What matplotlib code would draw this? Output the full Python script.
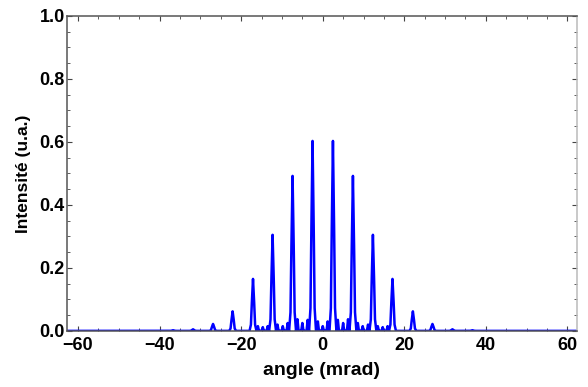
import matplotlib.pyplot as plt
from matplotlib.ticker import MultipleLocator

# main diffraction peaks (mrad, intensity)
peak_angle = [-36.7, -31.8, -26.9, -22.1, -17.1, -12.3, -7.4, -2.5,
              2.5, 7.4, 12.3, 17.1, 22.1, 26.9, 31.8, 36.7]
peak_height = [0.002, 0.005, 0.022, 0.062, 0.165, 0.305, 0.492, 0.603,
               0.603, 0.492, 0.305, 0.165, 0.062, 0.022, 0.005, 0.002]

# small secondary maxima between the main peaks
ripple_angle = [-15.9, -14.7, -13.5, -11.1, -9.8, -8.6, -6.2, -5.0, -3.7,
                -1.2, 0.0, 1.2,
                3.7, 5.0, 6.2, 8.6, 9.8, 11.1, 13.5, 14.7, 15.9]
ripple_height = [0.015, 0.012, 0.015, 0.02, 0.015, 0.025, 0.037, 0.025, 0.035,
                 0.03, 0.015, 0.03,
                 0.035, 0.025, 0.037, 0.025, 0.015, 0.02, 0.015, 0.012, 0.015]

# shape of one bump: offsets (in units of half-width) and fraction of height
shape_dx = [-1.0, -0.6, -0.33, 0.0, 0.33, 0.6, 1.0]
shape_fy = [0.0, 0.12, 0.55, 1.0, 0.55, 0.12, 0.0]

bumps = [(c, h, 0.85) for c, h in zip(peak_angle, peak_height)]
bumps += [(c, h, 0.4) for c, h in zip(ripple_angle, ripple_height)]
bumps.sort()

xs = [-62.5]
ys = [0.0]
for c, h, w in bumps:
    for dx, fy in zip(shape_dx, shape_fy):
        xs.append(c + dx * w)
        ys.append(h * fy)
xs.append(62.5)
ys.append(0.0)

plt.rcParams['font.family'] = ['Liberation Sans', 'DejaVu Sans']
plt.rcParams['font.weight'] = 'bold'

fig = plt.figure(figsize=(5.88, 3.87), dpi=100)
ax = fig.add_axes([0.114, 0.145, 0.867, 0.814])
ax.plot(xs, ys, color='#0000ff', lw=1.8, clip_on=True)

ax.set_xlim(-62.7, 62.3)
ax.set_ylim(0, 1.0)
ax.xaxis.set_major_locator(MultipleLocator(20))
ax.xaxis.set_minor_locator(MultipleLocator(5))
ax.yaxis.set_major_locator(MultipleLocator(0.2))
ax.yaxis.set_minor_locator(MultipleLocator(0.05))
ax.yaxis.set_major_formatter(plt.FuncFormatter(lambda v, p: '%.1f' % v))
ax.tick_params(which='both', direction='in', top=True, right=True,
               color='#444444', labelsize=13)
ax.tick_params(axis='x', pad=4.5)
ax.tick_params(axis='y', pad=1.5)
ax.tick_params(which='major', length=3.5)
ax.tick_params(which='minor', length=2)
for s in ax.spines.values():
    s.set_color('#555555')
    s.set_linewidth(1.1)
ax.spines['right'].set_color('#bbbbbb')

ax.set_xlabel('angle (mrad)', fontsize=14, fontweight='bold', labelpad=6)
ax.set_ylabel('Intensité (u.a.)', fontsize=12.5, fontweight='bold', labelpad=6)

fig.savefig('out.png', dpi=100)
